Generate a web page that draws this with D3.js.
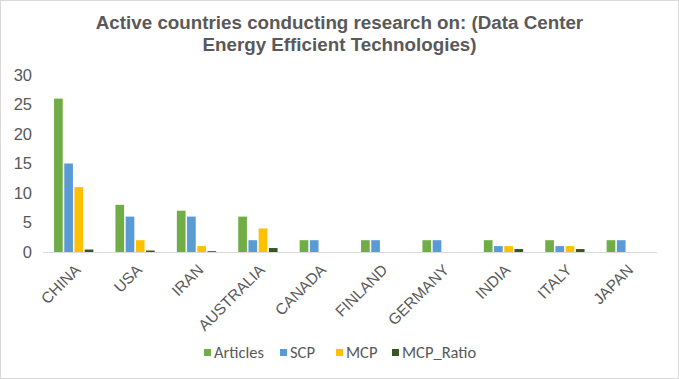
<!DOCTYPE html>
<html>
<head>
<meta charset="utf-8">
<script src="https://cdn.jsdelivr.net/npm/d3@7"></script>
<style>
  body { margin: 0; background: #fff; }
  svg { font-family: Calibri, Carlito, Lato, "Open Sans", sans-serif; }
</style>
</head>
<body>
<div id="chart"></div>
<script>
const width = 679;
const height = 379;

// Data
const countries = ["CHINA", "USA", "IRAN", "AUSTRALIA", "CANADA", "FINLAND", "GERMANY", "INDIA", "ITALY", "JAPAN"];
const seriesNames = ["Articles", "SCP", "MCP", "MCP_Ratio"];
const articles = [26, 8, 7, 6, 2, 2, 2, 2, 2, 2];
const scp = [15, 6, 6, 2, 2, 2, 2, 1, 1, 2];
const mcp = [11, 2, 1, 4, 0, 0, 0, 1, 1, 0];
const mcpRatio = [0.42, 0.25, 0.14, 0.67, 0, 0, 0, 0.5, 0.5, 0];
const yTicks = [0, 5, 10, 15, 20, 25, 30];
const colors = ["#70AD47", "#5B9BD5", "#FFC000", "#375623"];

const seriesValues = [articles, scp, mcp, mcpRatio];
const table = countries.map((c, i) => ({
    country: c,
    values: seriesNames.map((s, j) => ({ key: s, value: seriesValues[j][i] }))
}));

const margin = { top: 75, right: 22, bottom: 127, left: 43 };

const svg = d3.select("#chart")
    .append("svg")
    .attr("width", width)
    .attr("height", height);

// outer border
svg.append("rect")
    .attr("x", 0.5).attr("y", 0.5)
    .attr("width", width - 1).attr("height", height - 1)
    .attr("fill", "#fff")
    .attr("stroke", "#d9d9d9");

// title
const title = svg.append("text")
    .attr("text-anchor", "middle")
    .attr("fill", "#595959")
    .attr("font-family", "'Liberation Sans', Arial, sans-serif")
    .attr("font-size", 18.8)
    .attr("font-weight", "bold");
title.append("tspan").attr("x", width / 2).attr("y", 29)
    .text("Active countries conducting research on: (Data Center");
title.append("tspan").attr("x", width / 2).attr("y", 51)
    .text("Energy Efficient Technologies)");

const x0 = d3.scaleBand()
    .domain(countries)
    .range([margin.left, width - margin.right])
    .paddingInner(0.31)
    .paddingOuter(0.155);

const x1 = d3.scaleBand()
    .domain(seriesNames)
    .range([0, x0.bandwidth()])
    .padding(0.15);

const y = d3.scaleLinear()
    .domain([0, 30])
    .range([height - margin.bottom, margin.top]);

// y axis labels
const yAxis = svg.append("g")
    .attr("transform", `translate(${margin.left - 11},0)`)
    .call(d3.axisLeft(y).tickValues(yTicks).tickSize(0).tickPadding(0));
yAxis.select(".domain").remove();
yAxis.selectAll("text")
    .attr("fill", "#595959")
    .attr("font-size", 16.5)
    .attr("font-family", "inherit");

// bars
svg.append("g")
    .selectAll("g")
    .data(table)
    .join("g")
    .attr("transform", d => `translate(${x0(d.country)},0)`)
    .selectAll("rect")
    .data(d => d.values)
    .join("rect")
    .attr("x", d => x1(d.key))
    .attr("y", d => y(d.value))
    .attr("width", x1.bandwidth())
    .attr("height", d => y(0) - y(d.value))
    .attr("fill", (d, i) => colors[i]);

// x axis
const xAxis = svg.append("g")
    .attr("transform", `translate(0,${y(0)})`)
    .call(d3.axisBottom(x0).tickSize(0).tickPadding(0));
xAxis.select(".domain")
    .attr("stroke", "#d9d9d9")
    .attr("d", `M${margin.left},0.5H${width - margin.right}`);
xAxis.selectAll("text")
    .attr("fill", "#595959")
    .attr("font-size", 15.5)
    .attr("font-family", "inherit")
    .attr("text-anchor", "end")
    .attr("dy", "0.35em")
    .attr("transform", "translate(4,15) rotate(-45)");

// legend
const legendItems = [
    { name: "Articles", x: 204 },
    { name: "SCP", x: 280 },
    { name: "MCP", x: 336 },
    { name: "MCP_Ratio", x: 392 }
];
const legend = svg.append("g")
    .selectAll("g")
    .data(legendItems)
    .join("g")
    .attr("transform", d => `translate(${d.x},353)`);
legend.append("rect")
    .attr("x", 0).attr("y", -4)
    .attr("width", 7).attr("height", 7)
    .attr("fill", (d, i) => colors[i]);
legend.append("text")
    .attr("x", 10)
    .attr("y", 0)
    .attr("dy", "0.33em")
    .attr("fill", "#595959")
    .attr("font-size", 16.5)
    .text(d => d.name);
</script>
</body>
</html>
